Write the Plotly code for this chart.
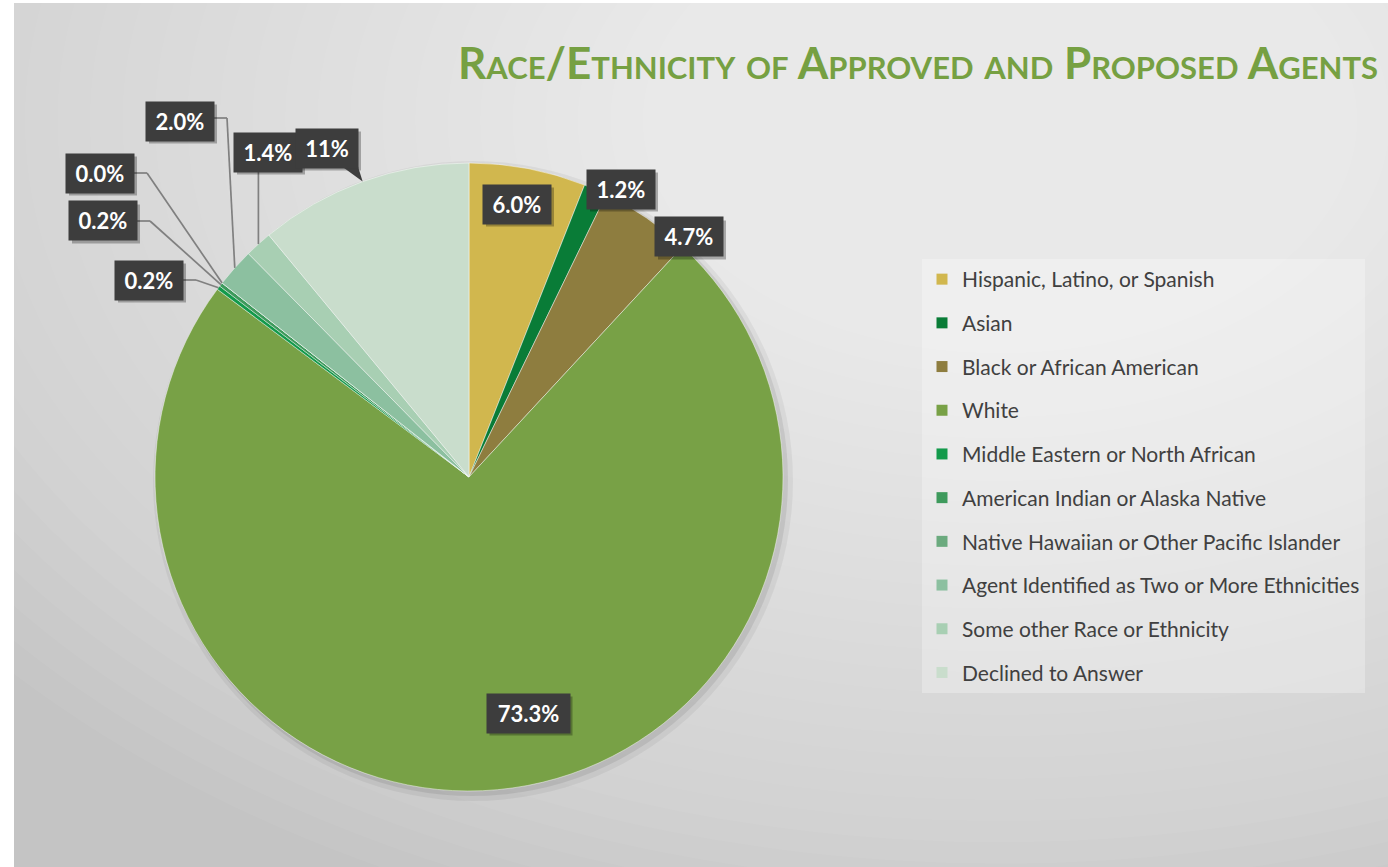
import math
import plotly.graph_objects as go

# ---------------- data ----------------
categories = [
    "Hispanic, Latino, or Spanish",
    "Asian",
    "Black or African American",
    "White",
    "Middle Eastern or North African",
    "American Indian or Alaska Native",
    "Native Hawaiian or Other Pacific Islander",
    "Agent Identified as Two or More Ethnicities",
    "Some other Race or Ethnicity",
    "Declined to Answer",
]
shares = [6.0, 1.2, 4.7, 73.3, 0.2, 0.2, 0.0, 2.0, 1.4, 11.0]
value_labels = ["6.0%", "1.2%", "4.7%", "73.3%", "0.2%", "0.2%", "0.0%", "2.0%", "1.4%", "11%"]

# ---------------- styles ----------------
colors = ["#D1B74E", "#097C37", "#8E7D3F", "#78A146", "#139A4B",
          "#3E9A5C", "#6BAA7E", "#8CC0A0", "#A8CFB3", "#C9DDCC"]

W, H = 1388, 867
CX, CY, R = 469, 477, 314          # pie centre / radius in px

# label box centres (px), widths and leader style
label_pos = [(517, 204), (621, 189), (689, 237), (528, 713), (149, 280),
             (103, 221), (100, 173), (180, 121), (268, 152), (327, 148)]
label_w = [68, 68, 68, 83, 68, 68, 68, 68, 68, 62]
leader = [None, None, None, None, "elbow", "elbow", "elbow", "elbow", "vertical", "tail"]
BH = 39


def px(x):
    return x / W


def py(y):
    return 1 - y / H


fig = go.Figure()

fig.add_trace(go.Pie(
    labels=categories, values=shares, sort=False, direction="clockwise",
    rotation=0, textinfo="none", hoverinfo="label+percent",
    marker=dict(colors=colors, line=dict(color="rgba(255,255,255,0.45)", width=1)),
    domain=dict(x=[px(CX - R), px(CX + R)], y=[py(CY + R), py(CY - R)]),
    showlegend=False,
))

# legend entries (one per category, for spacing control)
for i, (c, col) in enumerate(zip(categories, colors)):
    fig.add_trace(go.Scatter(
        x=[None], y=[None], mode="markers", name=c, legendgroup=f"g{i}",
        marker=dict(symbol="square", size=11, color=col),
        showlegend=True, hoverinfo="skip",
    ))

shapes = []
# background frame and soft radial gradient
shapes.append(dict(type="rect", xref="paper", yref="paper", x0=px(14), x1=1, y0=0, y1=py(3),
                   fillcolor="#c4c4c4", line=dict(width=0), layer="below"))
N = 40
gx, gy = 1000, 120
for k in range(N):
    f = 1 - k / N
    rx, ry = 1300 * f, 850 * f
    shapes.append(dict(type="circle", xref="paper", yref="paper",
                       x0=px(gx - rx), x1=px(gx + rx), y0=py(gy + ry), y1=py(gy - ry),
                       fillcolor="rgba(255,255,255,0.0412)", line=dict(width=0), layer="below"))
shapes.append(dict(type="rect", xref="paper", yref="paper", x0=0, x1=px(14), y0=0, y1=1,
                   fillcolor="white", line=dict(width=0), layer="below"))
shapes.append(dict(type="rect", xref="paper", yref="paper", x0=0, x1=1, y0=py(3), y1=1,
                   fillcolor="white", line=dict(width=0), layer="below"))
# pie shadow
for off, rad, a in [(4, 320, 0.05), (3, 316, 0.08)]:
    shapes.append(dict(type="circle", xref="paper", yref="paper",
                       x0=px(CX + off - rad), x1=px(CX + off + rad),
                       y0=py(CY + off + rad), y1=py(CY + off - rad),
                       fillcolor=f"rgba(0,0,0,{a})", line=dict(width=0), layer="below"))

# leader lines computed from slice mid-angles
total = sum(shares)
cum = 0.0
anchors = []
for v in shares:
    mid = (cum + v / 2) / total * 2 * math.pi
    anchors.append((CX + R * math.sin(mid), CY - R * math.cos(mid)))
    cum += v

line_style = dict(color="#808080", width=1.7)
for i, kind in enumerate(leader):
    if kind is None:
        continue
    bx, by = label_pos[i]
    bw = label_w[i]
    ax, ay = anchors[i]
    if kind == "elbow":
        yy = by - (3 if i == 7 else 0)
        pts = [(bx + bw / 2, yy), (bx + bw / 2 + 13, yy), (ax, ay)]
        for (x0, y0), (x1, y1) in zip(pts[:-1], pts[1:]):
            shapes.append(dict(type="line", xref="paper", yref="paper",
                               x0=px(x0), y0=py(y0), x1=px(x1), y1=py(y1), line=line_style))
    elif kind == "vertical":
        shapes.append(dict(type="line", xref="paper", yref="paper",
                           x0=px(ax), y0=py(by + BH / 2), x1=px(ax), y1=py(ay), line=line_style))

# label box shadows (+ callout tail for the last label)
for i, (bx, by) in enumerate(label_pos):
    bw = label_w[i]
    shapes.append(dict(type="rect", xref="paper", yref="paper",
                       x0=px(bx - bw / 2 + 3), x1=px(bx + bw / 2 + 3),
                       y0=py(by + BH / 2 + 3), y1=py(by - BH / 2 + 3),
                       fillcolor="rgba(0,0,0,0.28)", line=dict(width=0), layer="above"))
    if leader[i] == "tail":
        ax, ay = anchors[i]
        x_r = bx + bw / 2
        y_b = by + BH / 2
        path = (f"M {px(x_r - 16)} {py(y_b - 1)} L {px(x_r)} {py(y_b - 1)} "
                f"L {px(ax)} {py(ay)} Z")
        shapes.append(dict(type="path", xref="paper", yref="paper", path=path,
                           fillcolor="#3d3d3d", line=dict(width=0), layer="above"))

annotations = []
for i, (t, (bx, by)) in enumerate(zip(value_labels, label_pos)):
    annotations.append(dict(
        xref="paper", yref="paper", x=px(bx), y=py(by), xanchor="center",
        yanchor="middle", showarrow=False, width=label_w[i] - 12, height=BH - 12,
        borderpad=6, text=f"<b>{t}</b>", bgcolor="#3d3d3d",
        font=dict(family="Lato", size=22, color="white")))

annotations.append(dict(
    xref="paper", yref="paper", x=px(1380), y=py(62), xanchor="right", yanchor="middle",
    showarrow=False, text="<b>Race/Ethnicity of Approved and Proposed Agents</b>",
    font=dict(family="Lato", size=44, color="#76A042", variant="small-caps"),
))

fig.update_layout(
    width=W, height=H,
    margin=dict(l=0, r=0, t=0, b=0, autoexpand=False),
    paper_bgcolor="white", plot_bgcolor="rgba(0,0,0,0)",
    xaxis=dict(visible=False), yaxis=dict(visible=False),
    shapes=shapes, annotations=annotations,
    legend=dict(x=px(922), y=py(259), xanchor="left", yanchor="top",
                bgcolor="rgba(255,255,255,0.28)", borderwidth=0,
                font=dict(family="Lato", size=21, color="#404040"),
                tracegroupgap=13.4, itemclick=False, itemdoubleclick=False),
    showlegend=True,
)

fig.write_html("out.html", config={"displayModeBar": False},
               post_script="document.body.style.margin='0';")
